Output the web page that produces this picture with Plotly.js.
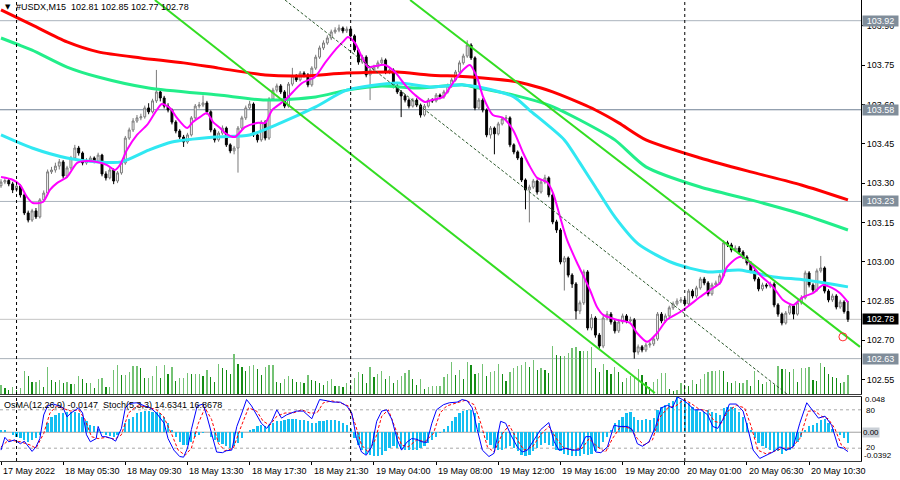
<!DOCTYPE html>
<html><head><meta charset="utf-8">
<script src="https://cdn.plot.ly/plotly-3.0.1.min.js"></script>
<style>html,body{margin:0;padding:0;background:#fff;}#chart{width:900px;height:480px;}</style>
</head><body><div id="chart"></div>
<script>
// ---------------- DATA ----------------
const symbol = '#USDX,M15';
const opens = [
103.290,103.304,103.310,103.297,103.274,103.289,103.255,103.186,103.159,103.194,
103.171,103.236,103.262,103.343,103.350,103.365,103.381,103.327,103.358,103.396,
103.434,103.415,103.377,103.388,103.396,103.384,103.407,103.335,103.320,103.350,
103.308,103.339,103.377,103.472,103.503,103.537,103.549,103.553,103.587,103.572,
103.614,103.648,103.625,103.594,103.579,103.533,103.499,103.476,103.457,103.484,
103.549,103.594,103.598,103.606,103.572,103.503,103.465,103.491,103.510,103.446,
103.423,103.434,103.510,103.549,103.587,103.602,103.484,103.465,103.533,103.472,
103.621,103.655,103.671,103.648,103.594,103.678,103.709,103.694,103.720,103.713,
103.675,103.739,103.781,103.816,103.835,103.854,103.877,103.884,103.892,103.881,
103.888,103.862,103.808,103.762,103.781,103.713,103.732,103.743,103.759,103.770,
103.724,103.732,103.671,103.648,103.633,103.617,103.594,103.617,103.598,103.560,
103.594,103.617,103.614,103.636,103.629,103.648,103.671,103.694,103.724,103.759,
103.785,103.827,103.778,103.587,103.617,103.579,103.484,103.510,103.488,103.526,
103.545,103.549,103.446,103.419,103.396,103.312,103.274,103.285,103.308,103.266,
103.304,103.320,103.255,103.152,103.121,102.999,103.014,102.949,102.915,102.812,
102.843,102.961,102.747,102.785,102.720,102.678,102.785,102.800,102.770,102.736,
102.770,102.793,102.774,102.778,102.655,102.675,102.663,102.682,102.686,102.705,
102.800,102.774,102.793,102.824,102.839,102.850,102.854,102.839,102.888,102.869,
102.900,102.934,102.919,102.877,102.911,102.919,102.946,103.072,103.064,103.045,
103.052,103.037,103.018,102.995,102.965,102.934,102.896,102.911,102.907,102.915,
102.835,102.800,102.766,102.804,102.831,102.800,102.843,102.862,102.957,102.911,
102.892,102.965,102.976,102.888,102.854,102.869,102.827,102.846,102.810];
const highs = [
103.315,103.322,103.318,103.305,103.298,103.295,103.262,103.195,103.202,103.205,
103.243,103.272,103.352,103.362,103.378,103.392,103.388,103.366,103.404,103.446,
103.442,103.421,103.396,103.404,103.402,103.416,103.412,103.345,103.358,103.356,
103.346,103.385,103.480,103.512,103.548,103.560,103.565,103.596,103.605,103.622,
103.732,103.660,103.633,103.605,103.585,103.540,103.506,103.484,103.492,103.556,
103.602,103.610,103.635,103.614,103.578,103.510,103.498,103.520,103.516,103.452,
103.442,103.518,103.557,103.596,103.614,103.608,103.495,103.540,103.540,103.628,
103.664,103.680,103.678,103.655,103.686,103.740,103.716,103.728,103.727,103.720,
103.746,103.790,103.825,103.845,103.864,103.886,103.895,103.905,103.898,103.898,
103.894,103.868,103.815,103.790,103.788,103.740,103.752,103.768,103.780,103.776,
103.742,103.738,103.678,103.655,103.640,103.624,103.625,103.624,103.604,103.602,
103.625,103.624,103.644,103.642,103.656,103.680,103.702,103.732,103.768,103.794,
103.845,103.834,103.784,103.625,103.624,103.585,103.518,103.516,103.534,103.553,
103.560,103.555,103.452,103.425,103.402,103.318,103.294,103.316,103.314,103.312,
103.332,103.326,103.262,103.160,103.128,103.022,103.020,102.956,102.922,102.852,
102.970,102.968,102.800,102.792,102.728,102.794,102.812,102.808,102.778,102.780,
102.802,102.800,102.790,102.785,102.684,102.682,102.690,102.695,102.714,102.808,
102.808,102.802,102.832,102.848,102.860,102.865,102.862,102.896,102.895,102.908,
102.942,102.942,102.926,102.920,102.928,102.955,103.082,103.080,103.072,103.062,
103.060,103.044,103.025,103.002,102.972,102.941,102.920,102.918,102.924,102.922,
102.842,102.806,102.812,102.840,102.838,102.852,102.872,102.966,102.964,102.918,
102.974,103.022,102.982,102.895,102.878,102.876,102.855,102.853,102.850];
const lows = [
103.282,103.296,103.288,103.262,103.266,103.245,103.178,103.150,103.152,103.163,
103.165,103.228,103.255,103.335,103.340,103.352,103.318,103.320,103.350,103.390,
103.405,103.368,103.370,103.380,103.376,103.378,103.326,103.310,103.314,103.296,
103.300,103.332,103.370,103.465,103.495,103.530,103.540,103.546,103.563,103.566,
103.606,103.612,103.585,103.570,103.524,103.490,103.468,103.438,103.450,103.478,
103.542,103.585,103.590,103.562,103.494,103.455,103.458,103.484,103.438,103.414,
103.410,103.340,103.502,103.541,103.580,103.476,103.455,103.458,103.463,103.465,
103.614,103.646,103.640,103.586,103.588,103.670,103.686,103.688,103.704,103.666,
103.668,103.732,103.774,103.808,103.828,103.846,103.870,103.876,103.872,103.873,
103.854,103.800,103.752,103.755,103.704,103.617,103.724,103.736,103.752,103.716,
103.716,103.662,103.640,103.552,103.608,103.585,103.588,103.590,103.550,103.554,
103.588,103.606,103.608,103.620,103.622,103.642,103.664,103.688,103.718,103.752,
103.778,103.770,103.578,103.580,103.570,103.475,103.470,103.410,103.482,103.520,
103.538,103.437,103.410,103.388,103.304,103.200,103.150,103.278,103.256,103.260,
103.296,103.246,103.143,103.110,102.990,102.890,102.940,102.900,102.780,102.800,
102.835,102.738,102.738,102.710,102.668,102.670,102.776,102.760,102.726,102.728,
102.762,102.765,102.768,102.630,102.645,102.654,102.655,102.672,102.678,102.698,
102.765,102.766,102.786,102.816,102.832,102.842,102.830,102.832,102.860,102.862,
102.893,102.910,102.868,102.870,102.904,102.912,102.940,103.056,103.036,103.038,
103.028,103.010,102.986,102.956,102.925,102.887,102.888,102.898,102.899,102.826,
102.790,102.757,102.760,102.797,102.780,102.794,102.836,102.856,102.902,102.884,
102.886,102.958,102.879,102.845,102.846,102.818,102.820,102.802,102.770];
const closes = [
103.304,103.310,103.297,103.274,103.289,103.255,103.186,103.159,103.194,103.171,
103.236,103.262,103.343,103.350,103.365,103.381,103.327,103.358,103.396,103.434,
103.415,103.377,103.388,103.396,103.384,103.407,103.335,103.320,103.350,103.308,
103.339,103.377,103.472,103.503,103.537,103.549,103.553,103.587,103.572,103.614,
103.648,103.625,103.594,103.579,103.533,103.499,103.476,103.457,103.484,103.549,
103.594,103.598,103.606,103.572,103.503,103.465,103.491,103.510,103.446,103.423,
103.434,103.510,103.549,103.587,103.602,103.484,103.465,103.533,103.472,103.621,
103.655,103.671,103.648,103.594,103.678,103.709,103.694,103.720,103.713,103.675,
103.739,103.781,103.816,103.835,103.854,103.877,103.884,103.892,103.881,103.888,
103.862,103.808,103.762,103.781,103.713,103.732,103.743,103.759,103.770,103.724,
103.732,103.671,103.648,103.633,103.617,103.594,103.617,103.598,103.560,103.594,
103.617,103.614,103.636,103.629,103.648,103.671,103.694,103.724,103.759,103.785,
103.827,103.778,103.587,103.617,103.579,103.484,103.510,103.488,103.526,103.545,
103.549,103.446,103.419,103.396,103.312,103.274,103.285,103.308,103.266,103.304,
103.320,103.255,103.152,103.121,102.999,103.014,102.949,102.915,102.812,102.843,
102.961,102.747,102.785,102.720,102.678,102.785,102.800,102.770,102.736,102.770,
102.793,102.774,102.778,102.655,102.675,102.663,102.682,102.686,102.705,102.800,
102.774,102.793,102.824,102.839,102.850,102.854,102.839,102.888,102.869,102.900,
102.934,102.919,102.877,102.911,102.919,102.946,103.072,103.064,103.045,103.052,
103.037,103.018,102.995,102.965,102.934,102.896,102.911,102.907,102.915,102.835,
102.800,102.766,102.804,102.831,102.800,102.843,102.862,102.957,102.911,102.892,
102.965,102.976,102.888,102.854,102.869,102.827,102.846,102.810,102.780];
// tick volumes (relative units)
const volumes = [
9,6,4,7,4,6,23,18,12,12, 14,7,27,14,12,14,11,12,10,10, 18,15,11,11,6,15,16,7,7,24,
29,19,19,22,28,28,26,16,16,18, 28,16,29,20,27,13,16,16,21,20, 20,20,18,24,17,12,30,26,24,20,
40,30,27,23,28,29,25,19,27,29, 29,12,11,15,18,15,12,12,11,19, 14,13,11,9,13,15,8,8,7,11,
9,16,22,20,11,27,17,20,23,15, 18,11,14,18,21,24,15,9,15,5, 7,8,8,8,17,20,32,19,24,15,
32,29,20,21,30,18,22,23,30,20, 13,22,26,28,29,32,27,34,24,26, 24,21,48,39,38,38,41,46,47,43,
43,43,47,26,22,30,24,20,27,22, 12,16,18,18,25,19,12,7,12,15, 21,21,5,3,4,11,9,8,14,10,
15,20,22,23,23,24,23,12,11,13, 11,11,14,8,23,14,10,12,12,9, 28,25,25,22,25,12,26,26,27,14,
13,31,27,20,17,16,11,12,19];
const osma = [
0.003,0.003,0.000,-0.004,-0.006,-0.008,-0.010,-0.013,-0.011,-0.008,
-0.004,0.001,0.012,0.021,0.024,0.026,0.026,0.027,0.028,0.028,
0.026,0.021,0.015,0.010,0.008,0.004,-0.001,-0.004,-0.005,-0.007,
-0.004,0.001,0.012,0.018,0.021,0.026,0.028,0.029,0.029,0.028,
0.028,0.026,0.021,0.012,0.003,-0.006,-0.013,-0.017,-0.017,-0.013,
-0.006,-0.004,-0.001,0.001,-0.006,-0.010,-0.013,-0.016,-0.019,-0.022,
-0.019,-0.015,-0.008,0.000,0.003,0.005,0.008,0.010,0.008,0.010,
0.012,0.015,0.015,0.017,0.018,0.018,0.018,0.017,0.016,0.015,
0.013,0.013,0.015,0.015,0.016,0.016,0.016,0.015,0.013,0.010,
0.005,-0.008,-0.017,-0.024,-0.029,-0.031,-0.033,-0.033,-0.031,-0.026,
-0.022,-0.019,-0.022,-0.023,-0.024,-0.024,-0.024,-0.024,-0.022,-0.019,
-0.015,-0.010,-0.006,-0.001,0.005,0.008,0.015,0.021,0.026,0.029,
0.030,0.030,0.026,0.012,-0.001,-0.010,-0.017,-0.022,-0.024,-0.024,
-0.022,-0.019,-0.022,-0.026,-0.031,-0.033,-0.031,-0.026,-0.022,-0.017,
-0.015,-0.017,-0.019,-0.024,-0.026,-0.029,-0.031,-0.032,-0.033,-0.033,
-0.029,-0.031,-0.029,-0.026,-0.022,-0.013,-0.006,0.003,0.012,0.017,
0.021,0.026,0.028,0.021,0.017,0.017,0.018,0.017,0.019,0.030,
0.035,0.037,0.040,0.043,0.048,0.044,0.042,0.040,0.035,0.030,
0.028,0.028,0.030,0.028,0.026,0.024,0.033,0.035,0.035,0.033,
0.028,0.021,0.012,0.003,-0.008,-0.015,-0.019,-0.022,-0.024,-0.026,
-0.026,-0.029,-0.026,-0.024,-0.019,-0.013,-0.006,0.003,0.008,0.010,
0.012,0.017,0.018,0.012,0.005,0.001,-0.004,-0.008,-0.0147];
// [bar, value] points
const stochMain = [[0,17],[1,37],[2,30],[3.5,33],[5,27],[6,31],[8,15],[9,22],[10,35],[11,72],[12,86],[13.5,89],[15,86],[16,83],[17,69],[18,75],[20,83],[21,75],[22,41],[23,30],[24.5,35],[25,54],[26,38],[27,38],[28.5,35],[29.5,31],[31,51],[32,83],[33,90],[35,91],[37,86],[38.5,83],[40,75],[42,59],[43,35],[44.5,17],[46,7],[47,6],[48,20],[49,49],[50.5,86],[52,89],[53,70],[54.5,35],[55.5,14],[57,13],[58,16],[59.4,17],[60.7,54],[62,75],[63.2,96],[64.5,86],[65.8,72],[67,59],[68.4,51],[69.7,62],[71,80],[72.2,67],[73.5,72],[74.8,75],[76,78],[77.8,78],[80,66],[81.3,86],[82,96],[84,94],[85.5,92],[87.3,92],[89,86],[90.3,75],[91.5,35],[92.8,14],[94,9],[95.4,22],[96.7,62],[98,78],[99.3,80],[100.6,65],[102,33],[103.1,17],[104.4,29],[105.7,35],[107,34],[108.3,30],[109.6,29],[110.9,59],[112.1,80],[113.9,88],[115.4,91],[117.4,92],[118.7,96],[120,94],[121.3,83],[122.6,49],[123.9,17],[125.6,7],[126.9,12],[128.6,62],[129.9,59],[131.2,41],[132.9,22],[134.2,14],[135.5,17],[137.2,33],[138.9,49],[141,60],[142.4,30],[143.6,17],[145.4,20],[147.1,17],[148.8,17],[150.5,38],[151.8,38],[153.1,14],[154.4,13],[156.1,22],[157.8,56],[159.1,54],[161.3,54],[162.5,49],[163.8,27],[165.1,23],[166.8,30],[168.5,54],[169.9,83],[171.6,87],[172.8,83],[174.1,100],[175.4,96],[176.7,90],[178.5,80],[180.2,80],[181.9,72],[183.2,54],[184.5,51],[185.8,65],[187.5,89],[189.3,89],[191,78],[192.3,49],[193.6,17],[195.3,4],[197,9],[198.7,14],[200.5,22],[202.2,17],[203.9,22],[205.6,59],[207.4,91],[208.7,80],[210.4,67],[212.1,70],[213.8,56],[215.5,22],[216.8,20],[218,14.6341]];
const stochSignal = [[0,22],[2,33],[5,30],[7.5,25],[9,20],[11,43],[12.6,75],[14.3,86],[16.5,81],[18,78],[20,80],[21.6,65],[23.3,38],[25,35],[27.2,37],[29.3,34],[31,41],[32.8,75],[35,86],[37.5,85],[40,80],[41.8,70],[44,41],[45.6,17],[47.4,9],[49,20],[50.8,59],[52.5,83],[54.2,65],[56,27],[57.7,16],[59.8,20],[61.5,49],[63.7,83],[65.8,78],[67.5,62],[69.2,56],[71,70],[73.1,75],[75.2,75],[77.4,80],[79.5,75],[81.3,75],[83,91],[85.1,94],[87.3,91],[89.4,86],[91.1,59],[92.8,25],[94.5,14],[96.3,33],[98,70],[99.7,80],[101.4,54],[103.1,25],[104.8,22],[107,33],[109.1,30],[111.3,43],[113,75],[114.7,86],[117.4,91],[119.6,95],[121.8,88],[123.5,59],[125.2,22],[126.9,14],[129.1,43],[130.8,56],[132.9,33],[134.6,17],[136.8,22],[138.9,41],[141,54],[143.2,33],[144.9,20],[147.1,17],[149.6,20],[151.4,35],[153.5,22],[155.6,14],[157.4,35],[159.5,54],[162.1,51],[163.8,35],[165.5,25],[167.7,33],[169.4,67],[171.6,83],[173.7,86],[175.8,96],[177.6,90],[179.7,81],[181.9,78],[183.6,62],[185.4,59],[187.1,78],[189.3,87],[191.4,83],[193.1,54],[194.8,17],[197,11],[199.1,16],[201.3,20],[203.4,20],[205.6,35],[207.8,78],[209.5,78],[211.2,70],[212.9,66],[214.6,51],[216.3,25],[218,16.8678]];
const maSlow = [[0,103.961],[8,103.904],[17,103.839],[25,103.801],[36,103.778],[47,103.759],[56,103.739],[68,103.713],[77,103.709],[89,103.720],[102,103.724],[110,103.713],[121,103.705],[133,103.686],[139,103.663],[142,103.648],[149,103.606],[153,103.579],[159,103.530],[166,103.465],[180,103.396],[193,103.343],[206,103.293],[218,103.236]];
const maMid = [[0,103.854],[4,103.831],[8,103.808],[17,103.743],[25,103.705],[38,103.663],[56,103.636],[68,103.617],[81,103.629],[89,103.655],[98,103.671],[107,103.663],[119,103.675],[123,103.663],[132,103.636],[141,103.598],[149,103.541],[158,103.465],[166,103.362],[180,103.285],[193,103.236],[206,103.182],[218,103.121]];
const maFast50 = [[0,103.484],[8,103.434],[17,103.396],[25,103.381],[31,103.381],[38,103.426],[44,103.457],[55,103.476],[64,103.484],[72,103.530],[81,103.591],[89,103.655],[102,103.682],[111,103.667],[119,103.675],[123,103.667],[132,103.629],[136,103.579],[145,103.465],[149,103.377],[153,103.285],[158,103.171],[164,103.068],[173,102.995],[182,102.961],[190,102.968],[199,102.942],[207,102.930],[218,102.904]];
const maShort = [[0,103.323],[3.1,103.312],[4.9,103.293],[6.7,103.247],[8.2,103.224],[10.8,103.228],[12.6,103.274],[14.4,103.300],[17,103.323],[19.6,103.377],[22.1,103.384],[24.7,103.381],[27.3,103.369],[29.3,103.350],[30.6,103.369],[32.4,103.426],[35,103.484],[37.6,103.522],[39.6,103.568],[41.4,103.602],[43.5,103.587],[45.3,103.549],[47.9,103.510],[49.4,103.533],[51.2,103.552],[53,103.568],[54.6,103.533],[56.4,103.510],[57.7,103.491],[60.2,103.476],[62.8,103.514],[66.2,103.530],[68,103.530],[69.8,103.579],[73.1,103.617],[77.5,103.682],[80.8,103.705],[83.4,103.759],[86,103.808],[88,103.839],[89.3,103.858],[91.1,103.835],[92.9,103.781],[94.5,103.743],[96.3,103.747],[98.8,103.751],[101.4,103.724],[104,103.675],[106.6,103.636],[109.1,103.610],[110.9,103.617],[113.8,103.629],[116.3,103.682],[118.9,103.732],[120.7,103.751],[122.5,103.705],[124.1,103.629],[126.6,103.560],[129.2,103.549],[131.8,103.503],[134.4,103.415],[136.2,103.362],[138,103.320],[140.5,103.304],[142.1,103.262],[143.9,103.171],[145.7,103.083],[148.3,102.995],[149.8,102.949],[151.6,102.892],[153.4,102.827],[155,102.797],[158.6,102.778],[161.9,102.766],[163.7,102.728],[166.3,102.694],[168.9,102.728],[171.4,102.778],[174.8,102.808],[177.3,102.835],[179.9,102.865],[182.5,102.892],[185.1,102.919],[186.9,102.980],[189.4,103.014],[191,103.018],[192.8,102.995],[195.4,102.949],[198.7,102.904],[201.3,102.854],[203.9,102.835],[206.4,102.865],[209,102.880],[211.6,102.911],[213.9,102.900],[216,102.880],[218,102.846]];
// trend line anchors [bar, price]
const trendLower = [[39.6,103.999],[168.3,102.499]];
const trendUpper = [[105.3,103.999],[221.1,102.675]];
const trendMid = [[73.1,103.999],[202.3,102.495]];
const alertPoint = [[216.7,102.713]];
const levels = [103.92, 103.58, 103.23, 102.63];
const bidLevel = 102.78;
const priceTicks = [102.55,102.70,102.85,103.00,103.15,103.30,103.45,103.60,103.75,103.90];
const daySeparators = [4, 90, 176];
const timeLabelBars = [0,16,32,48,64,80,96,112,128,144,160,176,192,208];
const timeLabels = ['17 May 2022','18 May 05:30','18 May 09:30','18 May 13:30','18 May 17:30','18 May 21:30','19 May 04:00','19 May 08:00','19 May 12:00','19 May 16:00','19 May 20:00','20 May 01:00','20 May 06:30','20 May 10:30'];
const osmaParams = '12,26,9', stochParams = '5,3,3';
const osmaMax = 0.048, osmaMin = -0.0392;

// ---------------- STYLE / LAYOUT ----------------
const F = 'Liberation Sans, Arial, sans-serif';
const levelColors = ['#aab3bd', '#6f8194', '#aab3bd', '#a9b0b8'];
const bars = closes.map((_, i) => i);
const last = closes.length - 1;
const xRange = [-0.257, 221.36];
const mainBottom = 67 / 461, indTop = 64 / 461;
const PX = p => p[0], PY = p => p[1];

const traces = [];
traces.push({type:'bar', x:bars, y:volumes, xaxis:'x', yaxis:'y', width:0.32,
  marker:{color:volumes.map((v,i)=> (i>0 && v<volumes[i-1]) ? '#148c14' : '#74c274'), line:{width:0}}, hoverinfo:'skip'});
traces.push({type:'candlestick', x:bars, open:opens, high:highs, low:lows, close:closes, xaxis:'x', yaxis:'y2',
  increasing:{line:{color:'#7a7a7a', width:1}, fillcolor:'#ffffff'},
  decreasing:{line:{color:'#000000', width:1}, fillcolor:'#000000'},
  whiskerwidth:0, hoverinfo:'skip'});
const maLine = (pts, color, width) => ({type:'scatter', mode:'lines', x:pts.map(PX), y:pts.map(PY), xaxis:'x', yaxis:'y2',
  line:{color:color, width:width, shape:'spline', smoothing:0.7}, hoverinfo:'skip'});
traces.push(maLine(maSlow, '#ff0000', 3));
traces.push(maLine(maMid, '#22ee8a', 3));
traces.push(maLine(maFast50, '#30e8f2', 3));
traces.push(maLine(maShort, '#ff00ff', 2));
const tl = (pts, color, width, dash) => ({type:'scatter', mode:'lines', x:pts.map(PX), y:pts.map(PY), xaxis:'x', yaxis:'y2',
  line:{color:color, width:width, dash:dash||'solid'}, hoverinfo:'skip'});
traces.push(tl(trendMid, '#2d5a2d', 1, '3px,2px'));
traces.push(tl(trendLower, '#33dd22', 2));
traces.push(tl(trendUpper, '#33dd22', 2));
traces.push({type:'scatter', mode:'markers', x:alertPoint.map(PX), y:alertPoint.map(PY), xaxis:'x', yaxis:'y2',
  marker:{symbol:'circle-open', size:8, color:'#ff3030', line:{width:1, color:'#ff3030'}}, hoverinfo:'skip'});
// indicator window
traces.push({type:'bar', x:bars, y:osma, xaxis:'x2', yaxis:'y3', width:0.58, marker:{color:'#14bff2', line:{width:0}}, hoverinfo:'skip'});
traces.push({type:'scatter', mode:'lines', x:stochSignal.map(PX), y:stochSignal.map(PY), xaxis:'x2', yaxis:'y4',
  line:{color:'#ff0000', width:1, dash:'3px,2px'}, hoverinfo:'skip'});
traces.push({type:'scatter', mode:'lines', x:stochMain.map(PX), y:stochMain.map(PY), xaxis:'x2', yaxis:'y4',
  line:{color:'#0000ff', width:1}, hoverinfo:'skip'});

const shapes = [];
levels.forEach((lv, k) => shapes.push({type:'line', xref:'paper', x0:0, x1:1, yref:'y2', y0:lv, y1:lv, layer:'below', line:{color:levelColors[k], width:1}}));
shapes.push({type:'line', xref:'paper', x0:0, x1:1, yref:'y2', y0:bidLevel, y1:bidLevel, layer:'below', line:{color:'#c4c4c4', width:1}});
daySeparators.forEach(b => shapes.push({type:'line', xref:'x', x0:b, x1:b, yref:'paper', y0:0, y1:1, line:{color:'#000', width:1, dash:'3px,3px'}}));
shapes.push({type:'line', xref:'paper', x0:0, x1:1, yref:'y3', y0:0, y1:0, layer:'below', line:{color:'#a0a0a0', width:1}});
[80, 20].forEach(v => shapes.push({type:'line', xref:'paper', x0:0, x1:1, yref:'y4', y0:v, y1:v, layer:'below', line:{color:'#a8a8a8', width:1, dash:'3px,3px'}}));

const ann = [];
const fnt = (c, s) => ({family:F, size:s||9, color:c||'#000'});
ann.push({xref:'paper', x:0, xshift:3, xanchor:'left', yref:'paper', y:1, yshift:-7, yanchor:'middle', text:'▼', font:{family:'DejaVu Sans', size:7, color:'#000'}, showarrow:false});
ann.push({xref:'paper', x:0, xshift:14, xanchor:'left', yref:'paper', y:1, yshift:-7, yanchor:'middle',
  text: symbol + '&nbsp; ' + [opens[last], highs[last], lows[last], closes[last]].map(v=>v.toFixed(2)).join(' '), font:fnt(), showarrow:false});
ann.push({xref:'paper', x:0, xshift:2, xanchor:'left', yref:'paper', y:indTop, yshift:-8, yanchor:'middle',
  text: 'OsMA(' + osmaParams + ') ' + osma[last].toFixed(4) + '&nbsp; Stoch(' + stochParams + ') ' + stochMain[stochMain.length-1][1].toFixed(4) + ' ' + stochSignal[stochSignal.length-1][1].toFixed(4),
  font:fnt(), showarrow:false});
levels.forEach(lv => ann.push({xref:'paper', x:1, xshift:1, xanchor:'left', yref:'y2', y:lv, yanchor:'middle', text:lv.toFixed(2),
  font:fnt('#ffffff'), bgcolor:'#808d9a', width:35, height:10, borderpad:0, align:'center', showarrow:false}));
ann.push({xref:'paper', x:1, xshift:1, xanchor:'left', yref:'y2', y:bidLevel, yanchor:'middle', text:bidLevel.toFixed(2),
  font:fnt('#ffffff'), bgcolor:'#000000', width:35, height:10, borderpad:0, align:'center', showarrow:false});
ann.push({xref:'paper', x:1, xshift:3, xanchor:'left', yref:'y3', y:osmaMax, yshift:3, yanchor:'top', text:osmaMax.toFixed(3), font:fnt('#000', 8), borderpad:0, showarrow:false});
ann.push({xref:'paper', x:1, xshift:4, xanchor:'left', yref:'y4', y:80, yshift:-1, yanchor:'middle', text:'80', font:fnt('#000', 8), borderpad:0, showarrow:false});
ann.push({xref:'paper', x:1, xshift:1, xanchor:'left', yref:'y3', y:0, yanchor:'middle', text:'0.00', font:fnt('#000', 8), bgcolor:'#c9cfd6', borderpad:0, showarrow:false});
ann.push({xref:'paper', x:1, xshift:4, xanchor:'left', yref:'y4', y:20, yshift:1, yanchor:'middle', text:'20', font:fnt('#000', 8), borderpad:0, showarrow:false});
ann.push({xref:'paper', x:1, xshift:2, xanchor:'left', yref:'y3', y:osmaMin, yshift:0, yanchor:'bottom', text:osmaMin.toFixed(4), font:fnt('#000', 8), borderpad:0, showarrow:false});
timeLabelBars.forEach((b, k) => ann.push({xref:'x2', x:b, xshift:0, xanchor:'left', yref:'paper', y:0, yshift:-10, yanchor:'middle', text:timeLabels[k], font:fnt(), showarrow:false}));

const layout = {
  width:900, height:480, margin:{l:0, r:39, t:0, b:19, pad:0},
  paper_bgcolor:'#ffffff', plot_bgcolor:'#ffffff', showlegend:false,
  font:{family:F, size:9, color:'#000'}, bargap:0,
  xaxis:{domain:[0,1], range:xRange, anchor:'y', showgrid:false, zeroline:false, showticklabels:false, ticks:'',
    showline:true, linecolor:'#3c3c3c', linewidth:1, rangeslider:{visible:false}, fixedrange:true},
  xaxis2:{domain:[0,1], range:xRange, anchor:'y3', showgrid:false, zeroline:false, showticklabels:false,
    ticks:'outside', ticklen:3, tickcolor:'#000', tickvals:timeLabelBars, showline:true, mirror:true, linecolor:'#3c3c3c', linewidth:1},
  yaxis:{domain:[mainBottom,1], range:[0,394], visible:false, fixedrange:true},
  yaxis2:{overlaying:'y', anchor:'x', side:'right', range:[102.495,103.999], tickvals:priceTicks, ticktext:priceTicks.map(v=>v.toFixed(2)),
    ticks:'outside', ticklen:3, tickcolor:'#000', tickfont:{family:F, size:9, color:'#000'}, showgrid:false, zeroline:false,
    showline:true, linecolor:'#000', linewidth:1},
  yaxis3:{domain:[0,indTop], anchor:'x2', range:[osmaMin, osmaMax], side:'right', showgrid:false, zeroline:false, showticklabels:false,
    ticks:'', showline:true, linecolor:'#000', linewidth:1},
  yaxis4:{overlaying:'y3', anchor:'x2', range:[0,100], visible:false},
  shapes:shapes, annotations:ann
};
Plotly.newPlot('chart', traces, layout, {staticPlot:true, displayModeBar:false});
</script>
</body></html>
